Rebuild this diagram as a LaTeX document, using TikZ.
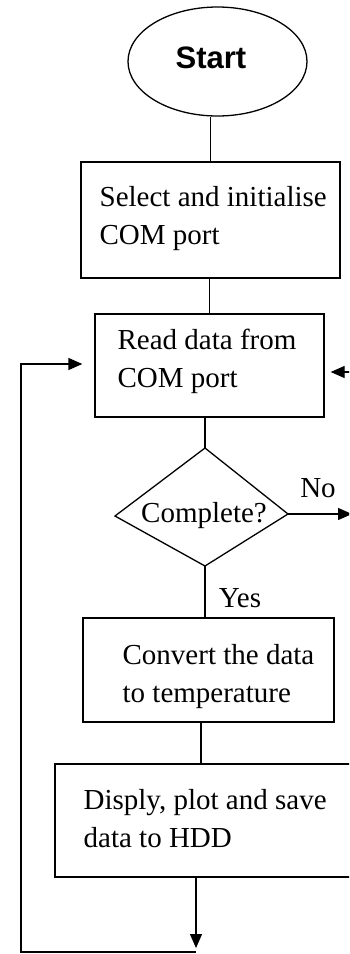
\documentclass[tikz,border=0pt]{standalone}
\usepackage{fontspec}
\setmainfont{Liberation Serif}
\newfontfamily\startfont{Liberation Sans}
\usetikzlibrary{arrows.meta,shapes.geometric}
\begin{document}
\begin{tikzpicture}[x=1pt,y=-1pt, line width=1.3pt,
  box/.style={draw, rectangle, inner sep=0pt},
  txt/.style={anchor=west, align=left, inner sep=0pt, font=\fontsize{29}{38}\selectfont},
  lbl/.style={inner sep=0pt, font=\fontsize{29}{34}\selectfont},
  arr/.style={-{Triangle[length=14pt,width=12pt]}}]
\clip (0,0) rectangle (349,954);
\fill[white] (0,0) rectangle (349,954);
% start
\node[draw, ellipse, minimum width=179pt, minimum height=109pt, inner sep=0pt] (start) at (217.5,61.5) {};
\node[inner sep=0pt, font=\startfont\bfseries\fontsize{31}{36}\selectfont] (starttxt) at (211,58) {Start};
% boxes
\node[box, minimum width=259pt, minimum height=116pt] (b1) at (210.5,220) {};
\node[txt] (t1) at (99,218.5) {Select and initialise\\COM port};
\node[box, minimum width=229pt, minimum height=103pt] (b2) at (209.5,365.5) {};
\node[txt] (t2) at (117,361) {Read data from\\COM port};
% decision
\coordinate (dtop) at (205,448);
\coordinate (dright) at (288,514);
\coordinate (dbot) at (205,566);
\coordinate (dleft) at (115,516);
\draw (dtop) -- (dright) -- (dbot) -- (dleft) -- cycle;
\node[lbl] (dec) at (204,516) {Complete?};
\node[box, minimum width=251pt, minimum height=104pt] (b3) at (208.5,670) {};
\node[txt] (t3) at (122,677) {Convert the data\\to temperature};
\node[box, minimum width=345pt, minimum height=113pt] (b4) at (227.5,820.5) {};
\node[txt] (t4) at (83,818.5) {Disply, plot and save\\data to HDD};
% labels
\node[lbl] (no) at (318,488) {No};
\node[lbl] (yes) at (240,598) {Yes};
% connectors
\draw (b1.north) -- (b1.north |- start.south);
\draw (b2.north) -- (b2.north |- b1.south);
\draw (dtop) -- (dtop |- b2.south);
\draw (dbot) -- (dbot |- b3.north);
\draw ([xshift=-7.5pt]b3.south) -- ([xshift=-7.5pt]b3.south |- b4.north);
\coordinate (noend) at (352,514);
\draw[arr] (dright) -- (noend);
\coordinate (rin) at (362,372);
\draw[arr] (rin) -- ([xshift=6pt]b2.east |- rin);
\coordinate (loopbot) at (196,952);
\coordinate (looptop) at (21,364);
\draw[arr] (b4.south -| loopbot) -- ([yshift=4pt]loopbot);
\draw[arr] (loopbot) -- (loopbot -| looptop) -- (looptop) -- ([xshift=-12pt]b2.west |- looptop);
\end{tikzpicture}
\end{document}
